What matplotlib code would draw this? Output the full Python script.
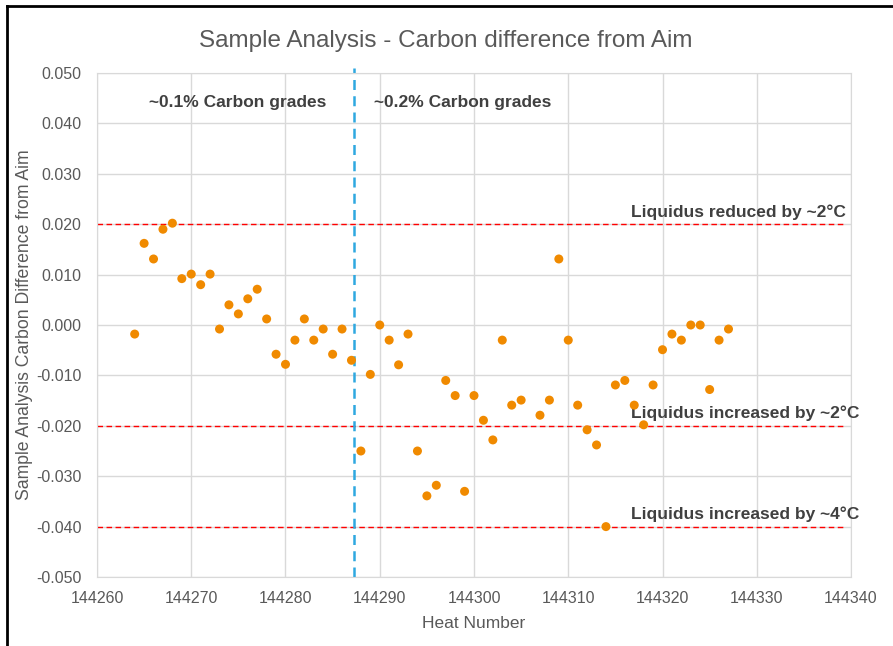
import matplotlib.pyplot as plt
from matplotlib.lines import Line2D

plt.rcParams['font.family'] = ['Liberation Sans', 'DejaVu Sans']

# heat numbers and carbon difference from aim
heats = [144264, 144265, 144266, 144267, 144268, 144269, 144270, 144271, 144272,
         144273, 144274, 144275, 144276, 144277, 144278, 144279, 144280, 144281,
         144282, 144283, 144284, 144285, 144286, 144287, 144288, 144289, 144290,
         144291, 144292, 144293, 144294, 144295, 144296, 144297, 144298, 144299,
         144300, 144301, 144302, 144303, 144304, 144305, 144307, 144308, 144309,
         144310, 144311, 144312, 144313, 144314, 144315, 144316, 144317, 144318,
         144319, 144320, 144321, 144322, 144323, 144324, 144325, 144326, 144327]
carbon_diff = [-0.0018, 0.0162, 0.0131, 0.0190, 0.0202, 0.0092, 0.0101, 0.0080, 0.0101,
               -0.0008, 0.0040, 0.0022, 0.0052, 0.0071, 0.0012, -0.0058, -0.0078, -0.0030,
               0.0012, -0.0030, -0.0008, -0.0058, -0.0008, -0.0070, -0.0250, -0.0098, 0.0000,
               -0.0030, -0.0079, -0.0018, -0.0250, -0.0339, -0.0318, -0.0110, -0.0140, -0.0330,
               -0.0140, -0.0189, -0.0228, -0.0030, -0.0159, -0.0149, -0.0179, -0.0149, 0.0131,
               -0.0030, -0.0159, -0.0208, -0.0238, -0.0400, -0.0119, -0.0110, -0.0159, -0.0198,
               -0.0119, -0.0049, -0.0018, -0.0030, 0.0000, 0.0000, -0.0128, -0.0030, -0.0008]

limit_levels = [0.02, -0.02, -0.04]
limit_labels = ['Liquidus reduced by ~2°C', 'Liquidus increased by ~2°C',
                'Liquidus increased by ~4°C']
grade_split = 144287.3
grade_labels = ['~0.1% Carbon grades', '~0.2% Carbon grades']

fig = plt.figure(figsize=(8.93, 6.46), dpi=100)
ax = fig.add_axes([0.1086, 0.1068, 0.8444, 0.7802])

ax.set_xlim(144260, 144340)
ax.set_ylim(-0.05, 0.05)
ax.set_xticks(range(144260, 144341, 10))
ax.set_yticks([i / 100 for i in range(-5, 6)])
ax.set_yticklabels(['%.3f' % (i / 100) for i in range(-5, 6)])
ax.grid(True, color='#D9D9D9', lw=1)
ax.set_axisbelow(True)
for s in ax.spines.values():
    s.set_color('#D9D9D9')
ax.tick_params(length=0, colors='#595959', labelsize=11.5)
ax.tick_params(axis='y', pad=11)
ax.tick_params(axis='x', pad=10)

for lvl in limit_levels:
    ax.plot([144260, 144339.2], [lvl, lvl], ls=(0, (4, 2.5)), color='#FF0000', lw=1, zorder=2)
for lvl, lab in zip(limit_levels, limit_labels):
    ax.text(144316.7, lvl + 0.0009, lab, ha='left', va='bottom', fontsize=12.5,
            fontweight='bold', color='#404040', clip_on=False)

ax.plot([grade_split, grade_split], [-0.05, 0.0509], ls=(0, (4, 2.5)), color='#2EA8E0',
        lw=1.8, zorder=2, clip_on=False)
ax.text(144274.9, 0.0442, grade_labels[0], ha='center', va='center', fontsize=12.5,
        fontweight='bold', color='#404040')
ax.text(144289.4, 0.0442, grade_labels[1], ha='left', va='center', fontsize=12.5,
        fontweight='bold', color='#404040')

ax.scatter(heats, carbon_diff, s=42, color='#F08A00', edgecolors='none', zorder=3)

ax.set_xlabel('Heat Number', fontsize=12.5, color='#595959', labelpad=7)
ax.set_ylabel('Sample Analysis Carbon Difference from Aim', fontsize=12.7, color='#595959', labelpad=2.5)
fig.text(0.499, 0.936, 'Sample Analysis - Carbon difference from Aim', ha='center', va='center',
         fontsize=17.5, color='#595959')

# frame round the chart (top and left edges visible)
fig.add_artist(Line2D([0.008, 0.008], [0, 0.991], color='black', lw=2, transform=fig.transFigure))
fig.add_artist(Line2D([0.008, 1], [0.991, 0.991], color='black', lw=2, transform=fig.transFigure))

fig.savefig('out.png', dpi=100)
